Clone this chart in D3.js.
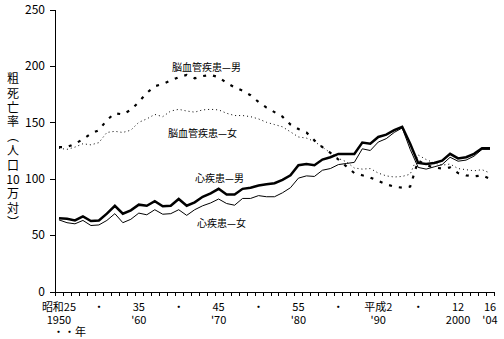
<!DOCTYPE html>
<html><head><meta charset="utf-8">
<script src="https://cdn.jsdelivr.net/npm/d3@7"></script>
<style>
html,body{margin:0;padding:0;background:#fff;}
text{font-family:"Noto Sans CJK JP","Noto Sans",sans-serif;fill:#000;}
</style></head>
<body><svg id="c" width="504" height="339"></svg>
<script>
// ---- data ----
const years = d3.range(1950, 2005);
const strokeMale = [128,128,131,135,140,143,152,158,157,161,168,176,182,184,187,190,192,189,191,192,
  190,185,181,178,174,168,163,159,155,148,144,141,134,128,123,117,111,105,103,101,
  98,95,93,92,93,116,112,110,109,110,105,103,102,103,100];
const strokeFemale = [127,126,128,131,130,132,141,142,141,143,150,153,157,155,160,161.5,160,159,161,161.5,
  161,158,156,156,155,153,150,148,146,141.5,137,136,133,128,123,118,115,109.5,108.5,109,
  105,102.5,101.5,102,104,121,117,114,112,113,109,108,107,108,105];
const heartMale = [65,64.5,63,66.5,62.5,63,69,76,69,72,77,76,80,75.5,76,82,76,79,84,87,
  91,86,86,91,92,94,95,96,99,103,112,113,112,117,119,122,122,122,132,131,
  137,139,143,146,131,114,113,114,116,122,118,119,122,127,127];
const heartFemale = [63.5,61,60,63,58.5,59,63,69,61,64,69.5,68,72.5,68.5,69,72.5,67.5,72.5,76,78.5,
  82,78,76.5,82.5,82.5,85,84,84,87.5,92,100.5,102.5,102,107.5,109,112.5,113.5,114.5,126.5,125,
  132.5,135.5,141,145,126,110,108.5,110.5,112.5,119,115.5,116.5,120,126,126];
const yTicks = [0,50,100,150,200,250];
const labelYears = [1950,1955,1960,1965,1970,1975,1980,1985,1990,1995,2000,2004];
const labelTop = ["昭和25","・","35","・","45","・","55","・","平成2","・","12","16"];
const labelBottom = ["1950","","'60","","'70","","'80","","'90","","2000","'04"];
const yTitle = ["粗","死","亡","率","︵","人","口","10","万","対","︶"];
const seriesNames = ["脳血管疾患—男","脳血管疾患—女","心疾患—男","心疾患—女"];

// ---- layout ----
const svg = d3.select("#c");
const x = d3.scaleLinear().domain([1949.5, 2004.5]).range([55, 494]);
const y = d3.scaleLinear().domain([0, 250]).range([291.5, 9.5]);

// y axis
const ya = svg.append("g").attr("transform","translate(55,0)")
  .call(d3.axisLeft(y).tickValues(yTicks).tickSize(5).tickSizeOuter(0).tickPadding(5));
ya.selectAll("text").style("font-size","12px").style("font-family","'Noto Sans CJK JP',sans-serif");
ya.selectAll("line,path").attr("stroke","#000").attr("shape-rendering","crispEdges");

// x axis
const xa = svg.append("g").attr("transform","translate(0,291.5)")
  .call(d3.axisBottom(x).tickValues(d3.range(1949.5, 2005, 1)).tickSize(4).tickSizeOuter(0).tickFormat(""));
xa.selectAll("line,path").attr("stroke","#000").attr("shape-rendering","crispEdges");

// x labels
const xl = svg.append("g").style("font-size","11px").attr("text-anchor","middle");
labelYears.forEach((yr,i)=>{
  xl.append("text").attr("x", x(yr)).attr("y", 311).text(labelTop[i]);
  if (labelBottom[i]) xl.append("text").attr("x", x(yr)).attr("y", 324).text(labelBottom[i]);
});
svg.append("text").attr("x",53).attr("y",336).style("font-size","11px").text("・・年");

// y title (vertical, one text element)
const yt = svg.append("text").attr("text-anchor","middle").style("font-size","12px");
yTitle.forEach((ch,i)=>{
  yt.append("tspan").attr("x",13).attr("y",79 + i*14.4).attr("dy","0.35em").text(ch);
});

// lines
const line = d3.line().x((d,i)=>x(years[i])).y(d=>y(d));
svg.append("path").datum(strokeFemale).attr("d",line).attr("fill","none")
  .attr("stroke","#000").attr("stroke-width",1).attr("stroke-dasharray","1 3");
svg.append("path").datum(strokeMale).attr("d",line).attr("fill","none")
  .attr("stroke","#000").attr("stroke-width",2.2).attr("stroke-dasharray","3 7");
svg.append("path").datum(heartFemale).attr("d",line).attr("fill","none")
  .attr("stroke","#000").attr("stroke-width",1);
svg.append("path").datum(heartMale).attr("d",line).attr("fill","none")
  .attr("stroke","#000").attr("stroke-width",2.5);

// series labels
const lab = svg.append("g").style("font-size","10px").attr("text-anchor","start");
const labPos = [[172,71],[168,137],[195,182],[197,227]];
seriesNames.forEach((n,i)=>{
  lab.append("text").attr("x",labPos[i][0]).attr("y",labPos[i][1]).text(n);
});
</script></body></html>
